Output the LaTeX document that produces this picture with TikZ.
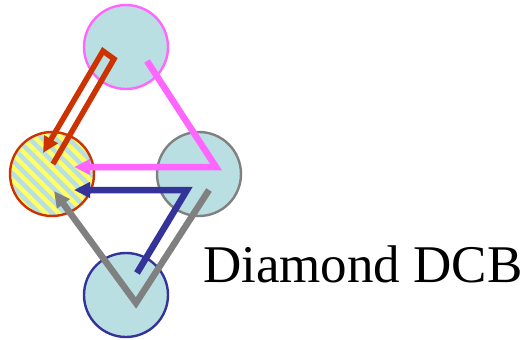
\documentclass[tikz,border=0pt]{standalone}
\usepackage{fontspec}
\setmainfont{Liberation Serif}
\usetikzlibrary{arrows.meta}

\definecolor{fillblue}{RGB}{185,223,227}
\definecolor{ringpink}{RGB}{255,102,255}
\definecolor{ringgray}{RGB}{128,128,128}
\definecolor{ringblue}{RGB}{51,51,153}
\definecolor{ringred}{RGB}{204,51,0}
\definecolor{stripeyellow}{RGB}{255,255,102}

\tikzset{
  ring/.style={circle, minimum size=84pt, inner sep=0pt, line width=2.4pt, fill=fillblue},
  flow/.style={line width=6.5pt, line join=miter, -{Triangle[length=16pt,width=15pt]}},
  striped/.style={path picture={
    \fill[stripeyellow] (path picture bounding box.south west) rectangle (path picture bounding box.north east);
    \foreach \s in {-104,-91,...,104}
      \draw[fillblue, line width=4.5pt] ([shift={(\s-60,-60)}]path picture bounding box.center) -- ++(120,120);
  }}
}

\begin{document}
\begin{tikzpicture}[x=1pt,y=-1pt]
\useasboundingbox (0,0) rectangle (528,340);

\node[ring, draw=ringpink] (top) at (126,47) {};
\node[ring, draw=ringgray] (right) at (199,174) {};
\node[ring, draw=ringblue] (bottom) at (126,295) {};
\node[ring, striped, draw=ringred] (left) at (52,174) {};

% bends of the flows
\coordinate (o1) at (53,164);
\coordinate (o2) at (114,59);
\coordinate (o3) at (103,51);
\coordinate (o4) at (43,153);
\coordinate (m1) at (147,61);
\coordinate (m2) at (216,167);
\coordinate (m3) at (74,167);
\coordinate (b1) at (137,273);
\coordinate (b2) at (187,190);
\coordinate (b3) at (74,190);
\coordinate (g1) at (209,190);
\coordinate (g2) at (136,303);
\coordinate (g3) at (54,191);

\draw[flow, ringred, line width=5.5pt] (o1) -- (o2) -- (o3) -- (o4);
\draw[flow, ringpink] (m1) -- (m2) -- (m3);
\draw[flow, ringblue] (b1) -- (b2) -- (b3);
\draw[flow, ringgray] (g1) -- (g2) -- (g3);

\node[anchor=base west, inner sep=0pt, font=\fontsize{53}{60}\selectfont] (name) at (203,282) {Diamond DCB};
\end{tikzpicture}
\end{document}
